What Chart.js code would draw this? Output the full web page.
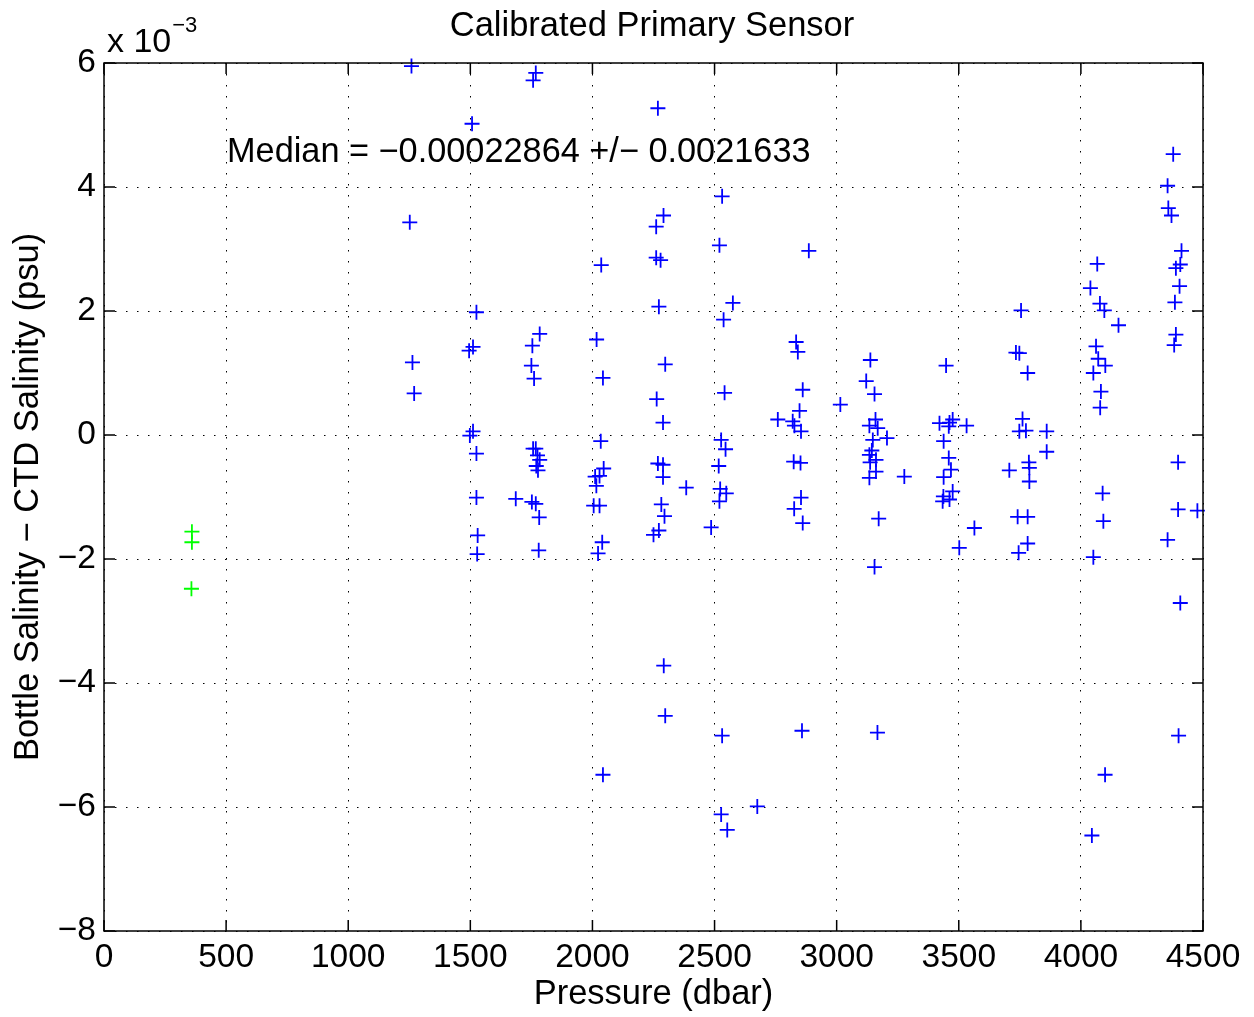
<!DOCTYPE html>
<html>
<head>
<meta charset="utf-8">
<script src="https://cdn.jsdelivr.net/npm/chart.js@4/dist/chart.umd.min.js"></script>
<style>
  html, body { margin: 0; padding: 0; background: #fff; }
</style>
</head>
<body>
<canvas id="chart" width="1254" height="1017"></canvas>
<script>
// axis ticks
var xTicks = [0, 500, 1000, 1500, 2000, 2500, 3000, 3500, 4000, 4500];
var yTicks = [-8, -6, -4, -2, 0, 2, 4, 6];

// bottle - CTD salinity, in units of 1e-3 psu
var greenPressure = [360, 360, 358];
var greenDiff = [-1.56, -1.73, -2.48];

var bluePressure = [
  1259, 1252, 1263, 1270,
  1507, 1525, 1511, 1495, 1511, 1498, 1525, 1525, 1530, 1528, 1686,
  1784, 1754, 1750, 1761, 1768, 1757, 1775, 1784, 1770, 1777, 1752, 1768, 1782, 1780, 1768, 1757,
  2017, 2043, 2034, 2046, 2029, 2011, 2016, 2005, 2029, 2040, 2023, 2036, 2043,
  2268, 2291, 2261, 2261, 2279, 2272, 2298, 2263, 2289, 2268, 2289, 2289, 2282, 2295, 2272, 2250, 2292, 2298, 2384,
  2531, 2520, 2575, 2537, 2541, 2527, 2545, 2517, 2523, 2548, 2520, 2486, 2531, 2527, 2552, 2675,
  2858, 2834, 2841, 2886, 2861, 2848, 2759, 2820, 2827, 2854, 2824, 2852, 2854, 2826, 2861, 3015,
  3138, 3121, 3155, 3159, 3134, 3168, 3206, 3148, 3144, 3134, 3161, 3137, 3161, 3134, 3277, 3172, 3155, 3167,
  3502, 3564, 3448, 3421, 3462, 3475, 3459, 3532, 3438, 3459, 3468, 3438, 3475, 3437, 3462, 3434,
  3755, 3734, 3748, 3782, 3761, 3748, 3775, 3860, 3860, 3787, 3789, 3707, 3789, 3741, 3782, 3782, 3745,
  4067, 4039, 4078, 4096, 4154, 4062, 4071, 4100, 4051, 4082, 4079, 4089, 4092, 4051, 4099, 4045,
  4378, 4355, 4358, 4371, 4412, 4407, 4389, 4404, 4385, 4389, 4382, 4398, 4398, 4477, 4355, 4407, 4400
];
var blueDiff = [
  5.95, 3.43, 1.17, 0.67,
  5.02, 1.98, 1.42, 1.36, 0.06, -0.01, -0.30, -1.01, -1.62, -1.92, -1.03,
  1.63, 1.44, 1.12, 0.91, -0.22, -0.22, -0.33, -0.40, -0.50, -0.57, -1.08, -1.11, -1.33, -1.86, 5.84, 5.72,
  1.54, 0.92, -0.10, -0.54, -0.66, -0.67, -0.82, -1.14, -1.14, -1.73, -1.91, 2.74, -5.48,
  5.27, 3.54, 3.36, 2.86, 2.82, 2.07, 1.14, 0.58, 0.20, -0.46, -0.48, -0.68, -1.12, -1.31, -1.54, -1.61, -3.72, -4.53, -0.85,
  3.85, 3.06, 2.13, 1.86, 0.68, -0.08, -0.23, -0.50, -0.87, -0.94, -1.07, -1.49, -4.85, -6.12, -6.37, -5.99,
  -4.77, 1.50, 1.34, 2.97, 0.73, 0.39, 0.25, 0.22, 0.15, 0.06, -0.43, -0.45, -1.01, -1.19, -1.42, 0.49,
  1.21, 0.87, 0.66, 0.25, 0.15, 0.11, -0.05, -0.08, -0.25, -0.32, -0.40, -0.44, -0.59, -0.69, -0.67, -1.35, -2.13, -4.80,
  -1.82, -1.50, 1.12, 0.19, 0.20, 0.25, 0.14, 0.15, -0.10, -0.37, -0.56, -0.68, -0.91, -0.99, -1.04, -1.07,
  2.01, 1.33, 1.32, 1.00, 0.26, 0.06, 0.07, 0.06, -0.27, -0.44, -0.53, -0.57, -0.75, -1.32, -1.32, -1.75, -1.90,
  2.76, 2.37, 2.12, 2.01, 1.77, 1.43, 1.23, 1.12, 1.00, 0.70, 0.44, -0.94, -1.39, -1.97, -5.48, -6.46,
  4.53, 4.02, 3.66, 3.54, 2.97, 2.75, 2.69, 2.40, 2.14, 1.62, 1.45, -0.44, -1.20, -1.22, -1.69, -2.71, -4.85
];

var FONT = '"Liberation Sans", Arial, Helvetica, sans-serif';

function toPoints(xs, ys) {
  return xs.map(function (x, i) { return { x: x, y: ys[i] }; });
}

function minusSign(v) {
  return String(v).replace('-', '\u2212');
}

// matlab style box, inward ticks and the texts over the axes
var matlabFrame = {
  id: 'matlabFrame',
  afterDraw: function (chart) {
    var ctx = chart.ctx;
    var a = chart.chartArea;
    var sx = chart.scales.x, sy = chart.scales.y;
    var tl = 11;

    ctx.save();
    ctx.strokeStyle = '#000';
    ctx.lineWidth = 1.5;
    ctx.strokeRect(a.left, a.top, a.right - a.left, a.bottom - a.top);

    ctx.beginPath();
    xTicks.forEach(function (t) {
      var px = sx.getPixelForValue(t);
      ctx.moveTo(px, a.bottom); ctx.lineTo(px, a.bottom - tl);
      ctx.moveTo(px, a.top); ctx.lineTo(px, a.top + tl);
    });
    yTicks.forEach(function (t) {
      var py = sy.getPixelForValue(t);
      ctx.moveTo(a.left, py); ctx.lineTo(a.left + tl, py);
      ctx.moveTo(a.right, py); ctx.lineTo(a.right - tl, py);
    });
    ctx.stroke();

    ctx.fillStyle = '#000';
    ctx.textBaseline = 'alphabetic';

    ctx.font = '34.5px ' + FONT;
    ctx.textAlign = 'center';
    ctx.fillText('Calibrated Primary Sensor', 652, 36);

    ctx.textAlign = 'left';
    ctx.font = '34px ' + FONT;
    ctx.fillText('x 10', a.left + 3, 52);
    var w = ctx.measureText('x 10').width;
    ctx.font = '22px ' + FONT;
    ctx.fillText('\u22123', a.left + 3 + w + 1, 32);

    ctx.font = '34.3px ' + FONT;
    ctx.fillText('Median = \u22120.00022864 +/\u2212 0.0021633', 227, 162);
    ctx.restore();
  }
};

var ctx = document.getElementById('chart').getContext('2d');
var chart = new Chart(ctx, {
  type: 'scatter',
  data: {
    datasets: [
      {
        label: 'good',
        data: toPoints(bluePressure, blueDiff),
        pointStyle: 'cross',
        pointRadius: 7.5,
        pointHoverRadius: 7.5,
        borderColor: '#0000ff',
        backgroundColor: '#0000ff',
        borderWidth: 1.8
      },
      {
        label: 'shallow',
        data: toPoints(greenPressure, greenDiff),
        pointStyle: 'cross',
        pointRadius: 7.5,
        pointHoverRadius: 7.5,
        borderColor: '#00ff00',
        backgroundColor: '#00ff00',
        borderWidth: 1.8
      }
    ]
  },
  options: {
    responsive: false,
    animation: false,
    clip: false,
    layout: { padding: { top: 63, right: 51, left: 0, bottom: 0 } },
    plugins: {
      legend: { display: false },
      tooltip: { enabled: false }
    },
    scales: {
      x: {
        type: 'linear',
        min: 0,
        max: 4500,
        afterBuildTicks: function (s) { s.ticks = xTicks.map(function (v) { return { value: v }; }); },
        afterFit: function (s) { s.height = 86; },
        ticks: {
          color: '#000',
          padding: 7,
          maxRotation: 0,
          autoSkip: false,
          font: { family: FONT, size: 33.5 },
          callback: function (v) { return minusSign(v); }
        },
        grid: { color: '#000', lineWidth: 1, drawTicks: false },
        border: { display: false, dash: [1.5, 9.5] },
        title: {
          display: true,
          text: 'Pressure (dbar)',
          color: '#000',
          font: { family: FONT, size: 34.5 },
          padding: { top: 0, bottom: 2 }
        }
      },
      y: {
        type: 'linear',
        min: -8,
        max: 6,
        afterBuildTicks: function (s) { s.ticks = yTicks.map(function (v) { return { value: v }; }); },
        afterFit: function (s) { s.width = 104; },
        ticks: {
          color: '#000',
          padding: 8,
          autoSkip: false,
          font: { family: FONT, size: 33.5 },
          callback: function (v) { return minusSign(v); }
        },
        grid: { color: '#000', lineWidth: 1, drawTicks: false },
        border: { display: false, dash: [1.5, 9.5] },
        title: {
          display: true,
          text: 'Bottle Salinity \u2212 CTD Salinity (psu)',
          color: '#000',
          font: { family: FONT, size: 34.5 },
          padding: { top: 8, bottom: 0 }
        }
      }
    }
  },
  plugins: [matlabFrame]
});
</script>
</body>
</html>
